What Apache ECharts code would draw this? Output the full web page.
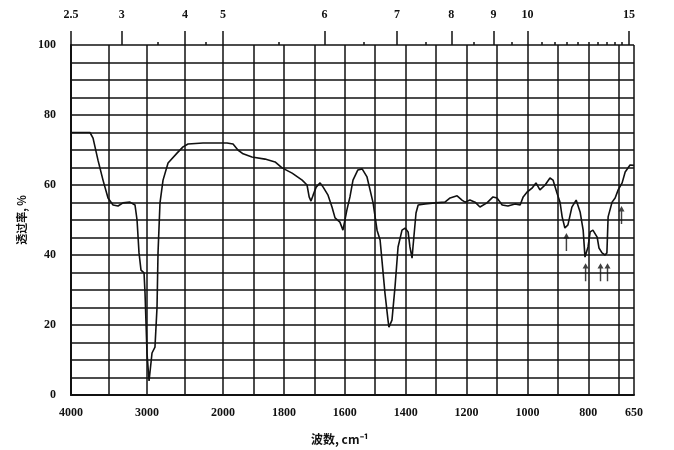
<!DOCTYPE html>
<html>
<head>
<meta charset="utf-8">
<script src="https://cdn.jsdelivr.net/npm/echarts@6/dist/echarts.min.js"></script>
<style>
html,body{margin:0;padding:0;background:#fff;}
#chart{width:674px;height:450px;}
</style>
</head>
<body>
<div id="chart"></div>
<script>
// IR spectrum: wavenumber (cm^-1) vs transmittance (%)
const wavenumber = [4060, 3750, 3710, 3645, 3579, 3513, 3447, 3381, 3316, 3224, 3158, 3131, 3105, 3079, 3039, 3026, 3000, 2973, 2934, 2895, 2868, 2855, 2829, 2789, 2723, 2605, 2526, 2460, 2263, 2000,
  1987, 1967, 1951, 1934, 1905, 1862, 1829, 1806, 1773, 1740, 1724, 1717, 1711, 1704, 1694, 1681, 1671, 1655, 1642, 1632, 1616, 1606, 1593, 1583, 1573, 1557, 1543, 1527, 1517, 1507, 1494, 1484, 1478, 1468, 1458, 1455, 1445, 1435, 1425, 1412, 1402, 1392, 1386, 1379, 1376, 1366, 1359, 1336, 1304, 1271, 1254, 1231, 1215, 1205, 1189, 1172, 1156, 1133, 1113, 1100, 1083, 1064, 1041, 1024, 1014, 1001, 985, 972, 959, 942, 926, 916, 903, 893, 886, 877, 867, 854, 840, 827, 817, 811, 801, 794, 785, 771, 765, 755, 745, 739, 735, 722, 712, 702, 689, 679, 663, 650];
const transmittance = [75, 75, 73.4, 67.1, 61.4, 56.3, 54.3, 54.0, 54.9, 55.1, 54.3, 50, 40.6, 35.7, 34.9, 29.1, 12, 4, 12, 13.7, 25.1, 40.6, 54.9, 61.4, 66.3, 69.1, 70.9, 71.7, 72, 72,
  72, 71.7, 70, 68.9, 68, 67.4, 66.6, 64.9, 63.4, 61.4, 60, 56.6, 55.4, 57.1, 59.4, 60.6, 59.4, 57.1, 53.7, 50.6, 49.4, 47.1, 52.9, 56.6, 61.4, 64.3, 64.6, 62.3, 58.6, 54.9, 47.1, 44.3, 38.6, 29.1, 21.4, 19.4, 21.4, 30.9, 42.3, 47.1, 47.7, 46.6, 42.3, 39.1, 42.3, 52, 54.3, 54.6, 54.9, 55.1, 56.3, 56.9, 55.7, 55.1, 55.7, 55.1, 53.7, 54.9, 56.6, 56.3, 54.3, 54, 54.6, 54.3, 56.6, 58, 59.1, 60.6, 58.6, 60, 62, 61.4, 57.7, 55.1, 50.9, 47.7, 48.6, 53.7, 55.7, 52.3, 47.1, 39.4, 42.3, 46.6, 47.1, 45.1, 42, 40.6, 40, 40.6, 50.9, 55.1, 56.3, 58.6, 60.6, 63.7, 65.7, 65.6];

// annotation arrows under bands
const arrowWavenumber = [872, 809, 760, 737, 691];
const arrowTransmittance = [43.7, 35.1, 35.1, 35.1, 51.4];

// tick labels
const bottomLabels = [4000, 3000, 2000, 1800, 1600, 1400, 1200, 1000, 800, 650];
const micronMajor = [2.5, 3, 4, 5, 6, 7, 8, 9, 10, 15];
const micronMinor = [3.5, 4.5, 5.5, 6.5, 7.5, 8.5, 9.5, 10.5, 11, 11.5, 12, 12.5, 13, 13.5, 14, 14.5];
const yLabels = [0, 20, 40, 60, 80, 100];

const BLACK = '#111';
const numFont = {fontFamily: 'Liberation Serif', fontWeight: 'bold', fontSize: 12, color: BLACK};

const pts = wavenumber.map((w, i) => [-w, transmittance[i]]);
const hi = pts.filter(p => -p[0] >= 2000);
const lo = pts.filter(p => -p[0] <= 2000);
const arrows = arrowWavenumber.map((w, i) => [-w, arrowTransmittance[i]]);

const toNum = m => -10000 / m;
function microns(min, max, list, inclMin) {
  return list.map(toNum).filter(v => (inclMin ? v >= min - 1e-6 : v > min + 1e-6) && v <= max + 1e-6);
}
const fmtMicron = v => String(Math.round(10000 / -v * 10) / 10);

function bottomAxis(gi, min, max, interval) {
  return {
    type: 'value', gridIndex: gi, min: min, max: max, interval: interval, position: 'bottom',
    axisLine: {show: true, lineStyle: {color: BLACK, width: 2}},
    axisTick: {show: false},
    splitLine: {show: true, showMaxLine: gi !== 0, lineStyle: {color: BLACK, width: 1.5}},
    axisLabel: {
      ...numFont, margin: 12, showMinLabel: true, showMaxLabel: true,
      formatter: v => {
        const w = Math.round(-v);
        if (gi === 1 && w === 2000) return '';
        return bottomLabels.indexOf(w) >= 0 ? String(w) : '';
      }
    }
  };
}
function topAxis(gi, min, max, list, len, withLabel) {
  const vals = microns(min, max, list, gi === 0);
  return {
    type: 'value', gridIndex: gi, min: min, max: max, position: 'top',
    axisLine: {show: false},
    splitLine: {show: false},
    axisTick: {show: true, customValues: vals, length: len, inside: false, lineStyle: {color: BLACK, width: 1.5}},
    axisLabel: withLabel ? {...numFont, customValues: vals, margin: 24, formatter: fmtMicron} : {show: false}
  };
}
function yAxis(gi, showLabel) {
  const ax = {
    type: 'value', gridIndex: gi, min: 0, max: 100, interval: 5,
    axisLine: {show: gi === 0, lineStyle: {color: BLACK, width: 2}},
    axisTick: {show: false},
    splitLine: {show: true, lineStyle: {color: BLACK, width: 1.5}},
    axisLabel: showLabel ? {...numFont, margin: 15, formatter: v => yLabels.indexOf(v) >= 0 ? String(v) : ''} : {show: false}
  };
  if (gi === 0) {
    ax.name = '透过率, %';
    ax.nameLocation = 'middle';
    ax.nameRotate = 90;
    ax.nameGap = 44;
    ax.nameTextStyle = {fontFamily: 'Noto Sans CJK SC', fontWeight: 'bold', fontSize: 11, color: BLACK};
  }
  return ax;
}

const chart = echarts.init(document.getElementById('chart'), null, {renderer: 'canvas'});
chart.setOption({
  backgroundColor: '#fff',
  animation: false,
  title: {
    text: '波数, cm⁻¹', left: 306, top: 428,
    textStyle: {fontFamily: 'Noto Sans CJK SC', fontWeight: 'bold', fontSize: 12, color: BLACK}
  },
  grid: [
    {left: 71, top: 45, width: 152, bottom: 55},
    {left: 223, top: 45, right: 40, bottom: 55}
  ],
  xAxis: [
    bottomAxis(0, -4000, -2000, 500),
    bottomAxis(1, -2000, -650, 100),
    topAxis(0, -4000, -2000, micronMajor, 14, true),
    topAxis(1, -2000, -650, micronMajor, 14, true),
    topAxis(0, -4000, -2000, micronMinor, 3, false),
    topAxis(1, -2000, -650, micronMinor, 3, false)
  ],
  yAxis: [yAxis(0, true), yAxis(1, false)],
  series: [
    {type: 'line', xAxisIndex: 0, yAxisIndex: 0, data: hi, showSymbol: false,
      lineStyle: {color: BLACK, width: 1.6}},
    {type: 'line', xAxisIndex: 1, yAxisIndex: 1, data: lo, showSymbol: false,
      lineStyle: {color: BLACK, width: 1.6}},
    {type: 'scatter', xAxisIndex: 1, yAxisIndex: 1, data: arrows,
      symbol: 'path://M5,0 L10,9 L6.2,9 L6.2,30 L3.8,30 L3.8,9 L0,9 Z',
      symbolSize: [6, 18], itemStyle: {color: BLACK}}
  ]
});
</script>
</body>
</html>
